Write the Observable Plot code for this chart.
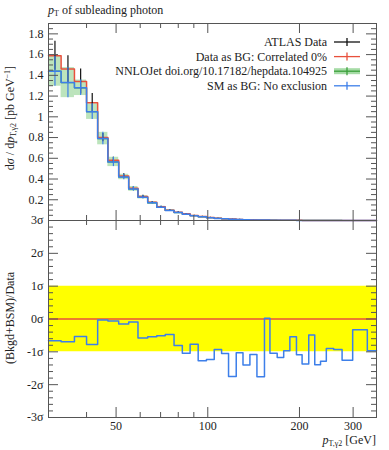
<!DOCTYPE html>
<html><head><meta charset="utf-8">
<script src="https://cdn.jsdelivr.net/npm/d3@7"></script>
<script src="https://cdn.jsdelivr.net/npm/@observablehq/plot@0.6"></script>
<style>
body{margin:0;background:#fff;}
#wrap{position:relative;width:389px;height:450px;overflow:hidden;}
#wrap > *{position:absolute;left:0;}
</style></head><body><div id="wrap"></div>
<script>
// ---- data ----
const edges = [30,33,36.5,40,43.5,47,51,55,59,63.5,68,72.5,77.5,82.5,87.5,93,99,105,111,117,124,130.5,137.5,145,153.5,160,169,177.5,186,195.5,204,214.5,224.5,234.5,245,259,276,299,334,358];
const dataVal = [1.59,1.46,1.34,1.135,0.80,0.58,0.43,0.31,0.232,0.176,0.132,0.100,0.080,0.064,0.049,0.038,0.029,0.022,0.017,0.0135,0.0105,0.0083,0.0066,0.0053,0.0040,0.0033,0.0026,0.0020,0.0016,0.0013,0.0010,0.0008,0.00065,0.0005,0.0004,0.0003,0.0002,0.00012,0.00007];
const dataErr = [0.14,0.13,0.12,0.09,0.04,0.03,0.02,0.015,0.011,0.008,0.006,0.005,0.004,0.003,0.0025,0.002,0.0015,0.0012,0.001,0.0008,0.0007,0.0006,0.0005,0.0004,0.0003,0.0003,0.0002,0.0002,0.00015,0.00012,0.0001,0.0001,0.00008,0.00006,0.00005,0.00004,0.00003,0.00002,0.00001];
const smVal = [1.44,1.33,1.28,1.05,0.79,0.565,0.42,0.305,0.224,0.170,0.128,0.097,0.076,0.060,0.046,0.035,0.027,0.020,0.016,0.012,0.0096,0.0075,0.006,0.0047,0.0040,0.003,0.0023,0.0018,0.0015,0.0011,0.0009,0.0007,0.00055,0.00043,0.00034,0.00025,0.00017,0.00011,0.00006];
const smErr = [0.145,0.145,0.075,0.075,0.06,0.045,0.026,0.023,0.016,0.012,0.009,0.007,0.005,0.004,0.003,0.0025,0.002,0.0015,0.0012,0.001,0.0008,0.0006,0.0005,0.0004,0.0003,0.0003,0.0002,0.0002,0.00015,0.00012,0.0001,0.00008,0.00006,0.00005,0.00004,0.00003,0.00002,0.00001,0.00001];
const ratioSig = [-0.66,-0.69,-0.53,-0.78,-0.03,-0.06,-0.15,-0.09,-0.58,-0.54,-0.51,-0.47,-0.81,-1.04,-0.77,-1.27,-1.23,-0.93,-1.05,-1.75,-1.03,-1.40,-1.08,-1.76,0.02,-1.04,-1.17,-0.97,-0.54,-1.09,-1.37,-0.49,-1.39,-1.29,-0.90,-0.93,-1.26,-0.33,-0.97];
const sigmaBand = [-1, 1];
const xTickLabels = [50,100,200,300];
const xMinorTicks = [40,60,70,80,90];
const yTopTicks = [0.2,0.4,0.6,0.8,1,1.2,1.4,1.6,1.8];
const yTopDomain = [0, 1.9];
const yBotTicks = [-3,-2,-1,0,1,2,3];
const yBotDomain = [-3, 3];
const legendLabels = ["ATLAS Data","Data as BG: Correlated 0%","NNLOJet doi.org/10.17182/hepdata.104925","SM as BG: No exclusion"];

// ---- style ----
const RED = "#e8503c", BLUE = "#3d7fe9", GREEN = "#a6dba6", GREENL = "#3a9f3a", TICK = "#555";
const FONT = "Liberation Serif";
const W = 389, ML = 48, MR = 13, PW = W - ML - MR;
const TOPH = 220, TOPMT = 23, PH = 197;
const BOTH = 230, BOTMB = 33;

const bins = edges.slice(0, -1).map((lo, i) => ({
  lo, hi: edges[i + 1], mid: (lo + edges[i + 1]) / 2,
  data: dataVal[i], dErr: dataErr[i], sm: smVal[i], sErr: smErr[i], ratio: ratioSig[i]
}));
const stepPts = key => edges.map((e, i) => ({x: e, y: bins[Math.min(i, bins.length - 1)][key]}));
const yTopMinor = d3.range(0.05, 1.9, 0.05).filter(v => Math.abs(v * 5 - Math.round(v * 5)) > 1e-6);
const yBotMinor = d3.range(-2.8, 3, 0.2).filter(v => Math.abs(v - Math.round(v)) > 1e-6);
const xScale = {type: "log", domain: [edges[0], edges[edges.length - 1]], axis: null};

function tickMarks(yMaj, yMin) {
  return [
    Plot.ruleY(yMaj, {y: d => d, insetRight: PW - 10, stroke: TICK}),
    Plot.ruleY(yMin, {y: d => d, insetRight: PW - 5, stroke: TICK}),
    Plot.ruleY(yMaj, {y: d => d, insetLeft: PW - 10, stroke: TICK}),
    Plot.ruleY(yMin, {y: d => d, insetLeft: PW - 5, stroke: TICK}),
    Plot.ruleX(xTickLabels, {x: d => d, insetTop: PH - 10, stroke: TICK}),
    Plot.ruleX(xMinorTicks, {x: d => d, insetTop: PH - 5, stroke: TICK}),
    Plot.ruleX(xTickLabels, {x: d => d, insetBottom: PH - 10, stroke: TICK}),
    Plot.ruleX(xMinorTicks, {x: d => d, insetBottom: PH - 5, stroke: TICK})
  ];
}
const style = {fontFamily: FONT, fontSize: "12px", background: "transparent", color: "#222", overflow: "visible"};

const topPlot = Plot.plot({
  width: W, height: TOPH, marginLeft: ML, marginRight: MR, marginTop: TOPMT, marginBottom: 0,
  x: xScale, y: {domain: yTopDomain, axis: null}, style,
  marks: [
    Plot.rect(bins, {x1: "lo", x2: "hi", y1: d => d.sm - d.sErr, y2: d => d.sm + d.sErr, fill: GREEN, fillOpacity: 0.75}),
    Plot.line(stepPts("sm"), {x: "x", y: "y", curve: "step-after", stroke: GREENL, strokeWidth: 1.2}),
    Plot.line(stepPts("data"), {x: "x", y: "y", curve: "step-after", stroke: RED, strokeWidth: 1.5}),
    Plot.ruleX(bins, {x: "mid", y1: d => d.data - d.dErr, y2: d => d.data + d.dErr, stroke: "#111", strokeWidth: 1.2}),
    Plot.line(stepPts("sm"), {x: "x", y: "y", curve: "step-after", stroke: BLUE, strokeWidth: 1.5}),
    Plot.ruleX(bins, {x: "mid", y1: d => d.sm - d.sErr, y2: d => d.sm + d.sErr, stroke: BLUE, strokeWidth: 1.2}),
    ...tickMarks(yTopTicks, yTopMinor),
    Plot.axisY(yTopTicks, {anchor: "left", tickSize: 0, tickPadding: 5, tickFormat: d3.format("~g"), label: null, fontSize: 12}),
    Plot.frame({stroke: TICK})
  ]
});

const sigFmt = d => (d < 0 ? "-" : "") + Math.abs(d) + "σ";
const botPlot = Plot.plot({
  width: W, height: BOTH, marginLeft: ML, marginRight: MR, marginTop: 0, marginBottom: BOTMB,
  x: xScale, y: {domain: yBotDomain, axis: null}, style,
  marks: [
    Plot.areaY(edges, {x: d => d, y1: () => sigmaBand[0], y2: () => sigmaBand[1], fill: "#ffff00"}),
    Plot.ruleY([0], {stroke: RED, strokeWidth: 1.5}),
    Plot.line(stepPts("ratio"), {x: "x", y: "y", curve: "step-after", stroke: BLUE, strokeWidth: 1.5}),
    ...tickMarks(yBotTicks, yBotMinor),
    Plot.axisY(yBotTicks, {anchor: "left", tickSize: 0, tickPadding: 5, tickFormat: sigFmt, label: null, fontSize: 12}),
    Plot.text(xTickLabels, {x: d => d, frameAnchor: "bottom", lineAnchor: "top", dy: 4, text: d => String(d), fontSize: 12, fill: "#222"}),
    Plot.frame({stroke: TICK})
  ]
});

const wrap = document.getElementById("wrap");
topPlot.style.top = "0px";
botPlot.style.top = TOPH + "px";
wrap.appendChild(topPlot);
wrap.appendChild(botPlot);

// ---- overlay text: title, axis labels, legend ----
const ov = d3.select(wrap).append("svg").attr("width", W).attr("height", 450)
  .style("top", "0px").attr("font-family", FONT).attr("font-size", 12).attr("fill", "#222");

function rich(sel, parts) {
  for (const p of parts) {
    const t = sel.append("tspan").text(p.t);
    if (p.i) t.attr("font-style", "italic");
    if (p.s) t.attr("font-size", p.s);
    if (p.dy) t.attr("dy", p.dy);
  }
  return sel;
}
rich(ov.append("text").attr("x", ML).attr("y", 14), [
  {t: "p", i: true}, {t: "T", s: 8, dy: 2}, {t: " of subleading photon", dy: -2}
]);
rich(ov.append("text").attr("transform", "translate(14,118) rotate(-90)").attr("text-anchor", "middle"), [
  {t: "d"}, {t: "σ", i: true}, {t: " / d"}, {t: "p", i: true}, {t: "T,γ2", s: 8, dy: 2},
  {t: " [pb GeV", dy: -2}, {t: "−1", s: 8, dy: -4}, {t: "]", dy: 4}
]);
ov.append("text").attr("transform", "translate(14,318) rotate(-90)").attr("text-anchor", "middle").text("(Bkgd+BSM)/Data");
rich(ov.append("text").attr("x", W - MR).attr("y", 444).attr("text-anchor", "end"), [
  {t: "p", i: true}, {t: "T,γ2", s: 8, dy: 2}, {t: " [GeV]", dy: -2}
]);

const legColors = ["#111", RED, GREENL, BLUE];
legendLabels.forEach((lab, i) => {
  const y = 46 + i * 14.6;
  ov.append("text").attr("x", 327).attr("y", y).attr("text-anchor", "end").text(lab);
  const cy = y - 4;
  if (i === 2) ov.append("rect").attr("x", 334).attr("y", cy - 3).attr("width", 26).attr("height", 6).attr("fill", GREEN);
  ov.append("line").attr("x1", 334).attr("x2", 360).attr("y1", cy).attr("y2", cy).attr("stroke", legColors[i]).attr("stroke-width", 1.3);
  ov.append("line").attr("x1", 347).attr("x2", 347).attr("y1", cy - 4).attr("y2", cy + 4).attr("stroke", legColors[i]).attr("stroke-width", 1.3);
});
</script></body></html>
